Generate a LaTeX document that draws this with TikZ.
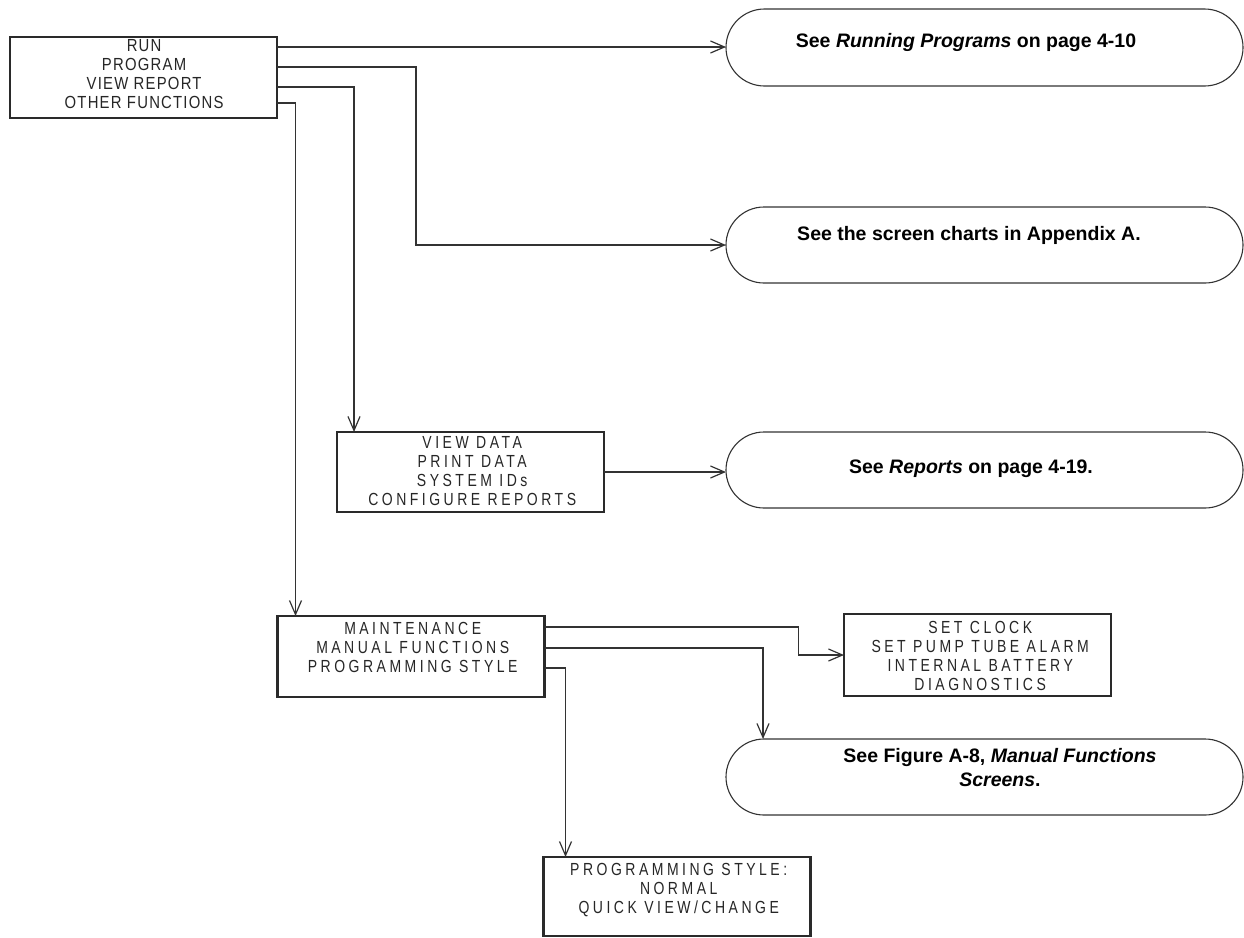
\documentclass[tikz,border=0pt]{standalone}
\usepackage{fontspec}
\setmainfont{Liberation Sans}
\newfontfamily\wideboxfont[LetterSpace=20,FakeStretch=0.8]{Liberation Sans}
\newfontfamily\topboxfont[LetterSpace=7,FakeStretch=0.85]{Liberation Sans}
\usetikzlibrary{arrows.meta,shapes.misc}
\definecolor{boxcol}{HTML}{2A2A2A}
\definecolor{linecol}{HTML}{333333}
\definecolor{txtcol}{HTML}{262626}
\begin{document}
\begin{tikzpicture}[x=1pt,y=-1pt,
  menubox/.style={draw=boxcol,line width=2.6pt,minimum width=267pt,minimum height=80pt,inner sep=0pt,outer sep=0pt},
  widetext/.style={text=txtcol,align=center,inner sep=0pt,anchor=north,font=\wideboxfont\fontsize{17.5pt}{19pt}\selectfont},
  toptext/.style={text=txtcol,align=center,inner sep=0pt,anchor=north,font=\topboxfont\fontsize{17.5pt}{19pt}\selectfont},
  seebox/.style={rounded rectangle,draw=linecol,line width=1.1pt,minimum width=517pt,minimum height=77pt,inner sep=0pt,outer sep=0pt},
  seetext/.style={inner sep=0pt,anchor=base,align=center,font=\bfseries\fontsize{19.5pt}{24pt}\selectfont},
  conn/.style={draw=linecol,line width=1.2pt,-{Straight Barb[length=14pt,width=12pt]}}]
\useasboundingbox (0,0) rectangle (1244,937);
\fill[white] (0,0) rectangle (1244,937);

% top menu
\node[menubox,minimum height=81pt] (main) at (143.5,77.5) {};
\node[toptext] (maintxt) at (144.1,39.7) {RUN\\PROGRAM\\VIEW REPORT\\OTHER FUNCTIONS};

% reference boxes
\node[seebox] (s1) at (984.5,47.5) {};
\node[seetext] (t1) at (966,47) {See \textit{Running Programs} on page 4-10};
\node[seebox,minimum height=76pt] (s2) at (984.5,245) {};
\node[seetext] (t2) at (969,240) {See the screen charts in Appendix A.};
\node[seebox,minimum height=76pt] (s3) at (984.5,470) {};
\node[seetext] (t3) at (971,473) {See \textit{Reports} on page 4-19.};
\node[seebox,minimum height=76pt] (s4) at (984.5,777) {};
\node[seetext,anchor=north] (t4) at (1000,748) {See Figure A-8, \textit{Manual Functions}\\\textit{Screens}.};

% sub menus
\node[menubox] (vd) at (470.5,472) {};
\node[widetext] (vdtxt) at (472.2,436.7) {VIEW DATA\\PRINT DATA\\SYSTEM IDs\\CONFIGURE REPORTS};
\node[menubox,minimum height=81pt] (mt) at (411,656.5) {};
\node[widetext] (mttxt) at (412.7,621.7) {MAINTENANCE\\MANUAL FUNCTIONS\\PROGRAMMING STYLE};
\node[menubox,minimum height=82pt] (sc) at (977.5,655) {};
\node[widetext] (sctxt) at (980.2,620.7) {SET CLOCK\\SET PUMP TUBE ALARM\\INTERNAL BATTERY\\DIAGNOSTICS};
\node[menubox,minimum height=79pt] (ps) at (677,896.5) {};
\node[widetext] (pstxt) at (678.7,862.7) {PROGRAMMING STYLE:\\NORMAL\\QUICK VIEW/CHANGE};

% connectors
\coordinate (oRUN) at ([yshift=-10pt]main.north east);
\coordinate (oPROG) at ([yshift=-30pt]main.north east);
\coordinate (oVIEW) at ([yshift=-50pt]main.north east);
\coordinate (oOTHER) at ([yshift=-66pt]main.north east);
\draw[conn] (oRUN) -- (oRUN -| s1.west);
\draw[conn] (oPROG) -- ++(139,0) |- (s2.west);
\draw[conn] (oVIEW) -| ([xshift=17pt]vd.north west);
\draw[conn] (oOTHER) -| ([xshift=18pt]mt.north west);
\draw[conn] (vd.east) -- (vd.east -| s3.west);

\coordinate (oMA) at ([yshift=-11pt]mt.north east);
\coordinate (oMF) at ([yshift=-32pt]mt.north east);
\coordinate (oPS) at ([yshift=-52pt]mt.north east);
\draw[conn] (oMA) -- ++(254,0) |- (sc.west);
\draw[conn] (oMF) -| ([xshift=-221.5pt]s4.north);
\draw[conn] (oPS) -| ([xshift=22pt]ps.north west);
\end{tikzpicture}
\end{document}
